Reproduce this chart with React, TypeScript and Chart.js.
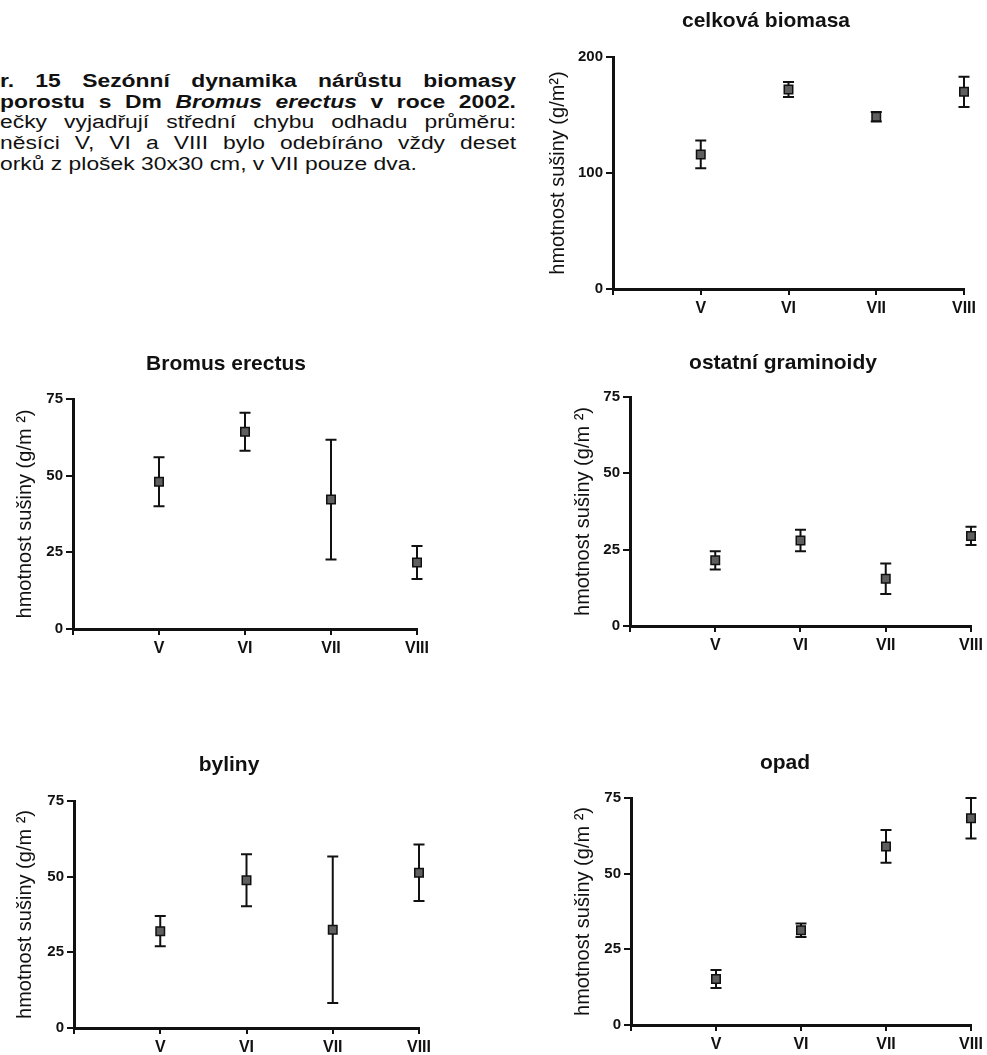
import React, { useEffect, useRef } from 'react';
import { Chart, registerables } from 'chart.js';

Chart.register(...registerables);

// ---- data ----
const months = ['V', 'VI', 'VII', 'VIII'];
const monthPositions = [1, 2, 3, 4];

const totalMean = [116, 172, 148.5, 170];
const totalErr = [12, 6.5, 4, 13];

const bromusMean = [48, 64.3, 42.2, 21.7];
const bromusErr = [8, 6.2, 19.5, 5.4];

const graminoidMean = [21.5, 28, 15.5, 29.5];
const graminoidErr = [3, 3.5, 5, 3];

const herbMean = [32, 48.8, 32.5, 51.3];
const herbErr = [5, 8.6, 24.2, 9.3];

const litterMean = [15.2, 31.3, 59, 68.3];
const litterErr = [3, 2.2, 5.4, 6.7];

const totalYMax = 200;
const totalYStep = 100;
const partYMax = 75;
const partYStep = 25;

const captionLines = [
  'r. 15 Sezónní dynamika nárůstu biomasy',
  'ečky vyjadřují střední chybu odhadu průměru:',
  'něsíci V, VI a VIII bylo odebíráno vždy deset',
  'orků z plošek 30x30 cm, v VII pouze dva.',
];

// ---- style / layout ----
const INK = '#111111';
const FONT = '"Liberation Sans", Arial, sans-serif';
const TITLE_SIZE = 21;
const YTITLE_SIZE = 20;
const CAPTION_STRETCH = 1.27;

type Panel = {
  title: string;
  yTitle: string;
  mean: number[];
  err: number[];
  yMax: number;
  yStep: number;
  box: { left: number; top: number; width: number; height: number };
  axisX: number;
  plotRight: number;
  plotTop: number;
  plotBottom: number;
  titleX: number;
  titleY: number;
  yTitleX: number;
};

const panels: Panel[] = [
  {
    title: 'celková biomasa', yTitle: 'hmotnost sušiny (g/m²)', mean: totalMean, err: totalErr,
    yMax: totalYMax, yStep: totalYStep,
    box: { left: 530, top: 0, width: 457, height: 330 },
    axisX: 613, plotRight: 964, plotTop: 57, plotBottom: 289, titleX: 766, titleY: 21, yTitleX: 558,
  },
  {
    title: 'Bromus erectus', yTitle: 'hmotnost sušiny (g/m ²)', mean: bromusMean, err: bromusErr,
    yMax: partYMax, yStep: partYStep,
    box: { left: 0, top: 330, width: 500, height: 370 },
    axisX: 73, plotRight: 417, plotTop: 399, plotBottom: 629, titleX: 226, titleY: 364, yTitleX: 25,
  },
  {
    title: 'ostatní graminoidy', yTitle: 'hmotnost sušiny (g/m ²)', mean: graminoidMean, err: graminoidErr,
    yMax: partYMax, yStep: partYStep,
    box: { left: 530, top: 330, width: 457, height: 370 },
    axisX: 630, plotRight: 974, plotTop: 397, plotBottom: 626, titleX: 783, titleY: 363, yTitleX: 583,
  },
  {
    title: 'byliny', yTitle: 'hmotnost sušiny (g/m ²)', mean: herbMean, err: herbErr,
    yMax: partYMax, yStep: partYStep,
    box: { left: 0, top: 700, width: 500, height: 355 },
    axisX: 74, plotRight: 419, plotTop: 801, plotBottom: 1028, titleX: 229, titleY: 765, yTitleX: 25,
  },
  {
    title: 'opad', yTitle: 'hmotnost sušiny (g/m ²)', mean: litterMean, err: litterErr,
    yMax: partYMax, yStep: partYStep,
    box: { left: 530, top: 700, width: 457, height: 355 },
    axisX: 631, plotRight: 974, plotTop: 798, plotBottom: 1025, titleX: 785, titleY: 763, yTitleX: 583,
  },
];

const errorBarPlugin = {
  id: 'errorBars',
  beforeDatasetsDraw(chart: any, _args: any, opts: any) {
    const { ctx } = chart;
    const x = chart.scales.x;
    const y = chart.scales.y;
    const means: number[] = opts.means || [];
    const errs: number[] = opts.errors || [];
    const cap = 5.5;
    ctx.save();
    ctx.strokeStyle = INK;
    ctx.lineWidth = 2;
    means.forEach((m, i) => {
      const px = x.getPixelForValue(monthPositions[i]);
      const top = y.getPixelForValue(m + errs[i]);
      const bot = y.getPixelForValue(m - errs[i]);
      ctx.beginPath();
      ctx.moveTo(px, top);
      ctx.lineTo(px, bot);
      ctx.moveTo(px - cap, top);
      ctx.lineTo(px + cap, top);
      ctx.moveTo(px - cap, bot);
      ctx.lineTo(px + cap, bot);
      ctx.stroke();
    });
    ctx.restore();
  },
};

function PanelChart({ p }: { p: Panel }) {
  const ref = useRef<HTMLCanvasElement | null>(null);
  useEffect(() => {
    if (!ref.current) return;
    const L = p.box.left;
    const W = p.box.width;
    const Ct = p.box.top;
    const H = p.box.height;
    const padRight = L + W - p.plotRight;
    const padLeft = 2 * p.titleX - p.plotRight - L;
    const yWidth = p.axisX - L - padLeft;
    const yLh = YTITLE_SIZE * 1.2;
    const yTitlePad = p.yTitleX - (L + padLeft) - yLh / 2;
    const tLh = TITLE_SIZE * 1.2;
    const tPadTop = p.titleY - Ct - tLh / 2;
    const tPadBottom = p.plotTop - Ct - tPadTop - tLh;
    const xHeight = Ct + H - p.plotBottom;

    const chart = new Chart(ref.current, {
      type: 'scatter',
      data: {
        datasets: [
          {
            data: p.mean.map((m, i) => ({ x: monthPositions[i], y: m })),
            pointStyle: 'rect',
            pointRadius: 6,
            pointHoverRadius: 6,
            backgroundColor: '#5f5f5f',
            borderColor: INK,
            borderWidth: 1.5,
            clip: false,
          },
        ],
      },
      options: {
        animation: false,
        responsive: false,
        devicePixelRatio: 1,
        events: [],
        layout: { padding: { left: padLeft, right: padRight, top: 0, bottom: 0 } },
        plugins: {
          legend: { display: false },
          tooltip: { enabled: false },
          title: {
            display: true,
            text: p.title,
            color: INK,
            font: { family: FONT, size: TITLE_SIZE, weight: 'bold' },
            padding: { top: tPadTop, bottom: tPadBottom },
          },
          errorBars: { means: p.mean, errors: p.err },
        } as any,
        scales: {
          x: {
            type: 'linear',
            min: 0,
            max: 4,
            afterFit: (s: any) => { s.height = xHeight; },
            ticks: {
              stepSize: 1,
              autoSkip: false,
              maxRotation: 0,
              padding: 4,
              color: INK,
              font: { family: FONT, size: 16, weight: 'bold' },
              callback: (v: any) => {
                const i = monthPositions.indexOf(Number(v));
                return i >= 0 ? months[i] : '';
              },
            },
            grid: { drawOnChartArea: false, drawTicks: true, tickLength: 6, color: INK, lineWidth: 2 },
            border: { display: true, color: INK, width: 3 },
          },
          y: {
            min: 0,
            max: p.yMax,
            afterFit: (s: any) => { s.width = yWidth; },
            ticks: {
              stepSize: p.yStep,
              padding: 3,
              color: INK,
              font: { family: FONT, size: 15, weight: 'bold' },
            },
            grid: { drawOnChartArea: false, drawTicks: true, tickLength: 7, color: INK, lineWidth: 2 },
            border: { display: true, color: INK, width: 3 },
            title: {
              display: true,
              text: p.yTitle,
              color: INK,
              font: { family: FONT, size: YTITLE_SIZE },
              padding: { top: yTitlePad, bottom: 0 },
            },
          },
        },
      } as any,
      plugins: [errorBarPlugin],
    });
    return () => chart.destroy();
  }, [p]);

  return (
    <canvas
      ref={ref}
      width={p.box.width}
      height={p.box.height}
      style={{
        position: 'absolute',
        left: p.box.left,
        top: p.box.top,
        width: p.box.width,
        height: p.box.height,
      }}
    />
  );
}

export default function App() {
  const lineStyle: React.CSSProperties = {
    textAlign: 'justify',
    textAlignLast: 'justify' as any,
    whiteSpace: 'nowrap',
  };
  return (
    <div
      style={{
        position: 'absolute',
        left: 0,
        top: 0,
        width: 987,
        height: 1055,
        background: '#ffffff',
        overflow: 'hidden',
      }}
    >
      <div
        style={{
          position: 'absolute',
          left: 0,
          top: 71,
          width: 516 / CAPTION_STRETCH,
          transform: `scaleX(${CAPTION_STRETCH})`,
          transformOrigin: 'left top',
          fontFamily: FONT,
          fontSize: 18,
          lineHeight: '20.7px',
          color: INK,
        }}
      >
        <div style={{ ...lineStyle, fontWeight: 'bold' }}>{captionLines[0]}</div>
        <div style={{ ...lineStyle, fontWeight: 'bold' }}>
          porostu s Dm <i>Bromus erectus</i> v roce 2002.
        </div>
        <div style={lineStyle}>{captionLines[1]}</div>
        <div style={lineStyle}>{captionLines[2]}</div>
        <div style={{ whiteSpace: 'nowrap' }}>{captionLines[3]}</div>
      </div>
      {panels.map((p) => (
        <PanelChart key={p.title} p={p} />
      ))}
    </div>
  );
}
